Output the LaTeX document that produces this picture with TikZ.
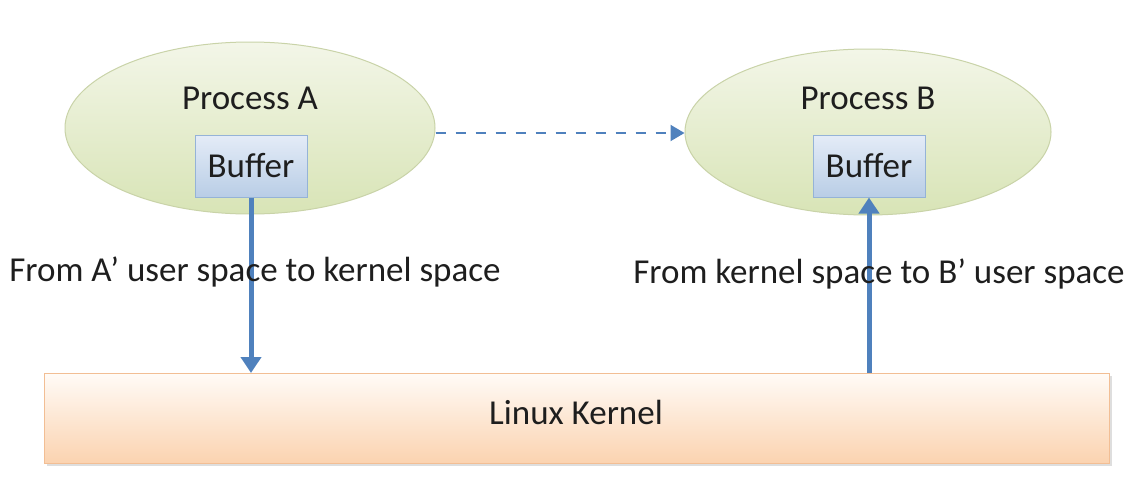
\documentclass[tikz,border=0pt]{standalone}
\usepackage{fontspec}
\setmainfont{Carlito}
\usetikzlibrary{shapes.geometric,arrows.meta,shadows}
\definecolor{arrowblue}{HTML}{4F81BD}
\definecolor{ellborder}{HTML}{C9D3A8}
\definecolor{elltop}{HTML}{F3F6E8}
\definecolor{ellbot}{HTML}{D8E4B6}
\definecolor{buftop}{HTML}{E4ECF7}
\definecolor{bufbot}{HTML}{B9CDE6}
\definecolor{bufborder}{HTML}{95B3D7}
\definecolor{kertop}{HTML}{FFFBF7}
\definecolor{kerbot}{HTML}{FBD3B0}
\definecolor{kerborder}{HTML}{F2BE94}
\definecolor{txt}{HTML}{1E1E1E}
\tikzset{
  proc/.style={ellipse, draw=ellborder, line width=1pt, top color=elltop, bottom color=ellbot, minimum width=370pt, minimum height=172pt, inner sep=0pt},
  buf/.style={rectangle, draw=bufborder, line width=1pt, top color=buftop, bottom color=bufbot, minimum width=112pt, minimum height=62pt, inner sep=0pt, font=\fontsize{35}{40}\selectfont, text=txt},
  lbl/.style={font=\fontsize{35}{40}\selectfont, text=txt, inner sep=0pt},
  kern/.style={rectangle, draw=kerborder, line width=1pt, top color=kertop, bottom color=kerbot, minimum width=1065pt, minimum height=90pt, inner sep=0pt, drop shadow={shadow xshift=2pt, shadow yshift=-3pt, fill=black!25, opacity=0.5}},
  flow/.style={draw=arrowblue, line width=5pt, -{Triangle[length=16pt, width=20pt]}},
  dflow/.style={draw=arrowblue, line width=2pt, dash pattern=on 10pt off 10pt, -{Triangle[length=14pt, width=16pt]}}
}
\begin{document}
\begin{tikzpicture}[x=1pt,y=-1pt]
\useasboundingbox (0,0) rectangle (1148,490);
\fill[white] (0,0) rectangle (1148,490);
\node[proc] (pa) at (250,128) {};
\node[proc, minimum width=366pt, minimum height=166pt] (pb) at (868,132) {};
\node[lbl] (ta) at (250,98) {Process A};
\node[lbl] (tb) at (868,98) {Process B};
\node[buf] (ba) at (251,166) {Buffer};
\node[buf] (bb) at (869,166) {Buffer};
\node[kern] (k) at (577,418) {};
\node[lbl] (tk) at (576,412) {Linux Kernel};
\draw[dflow] (pa.east |- 0,133) -- (pb.west |- 0,133);
\coordinate (ka) at (251,373);
\coordinate (kb) at (869,373);
\draw[flow] (ba.south) -- (ka);
\draw[flow] (kb) -- (bb.south);
\node[lbl] (la) at (255,272) {From A’ user space to kernel space};
\node[lbl] (lb) at (879,274) {From kernel space to B’ user space};
\end{tikzpicture}
\end{document}
